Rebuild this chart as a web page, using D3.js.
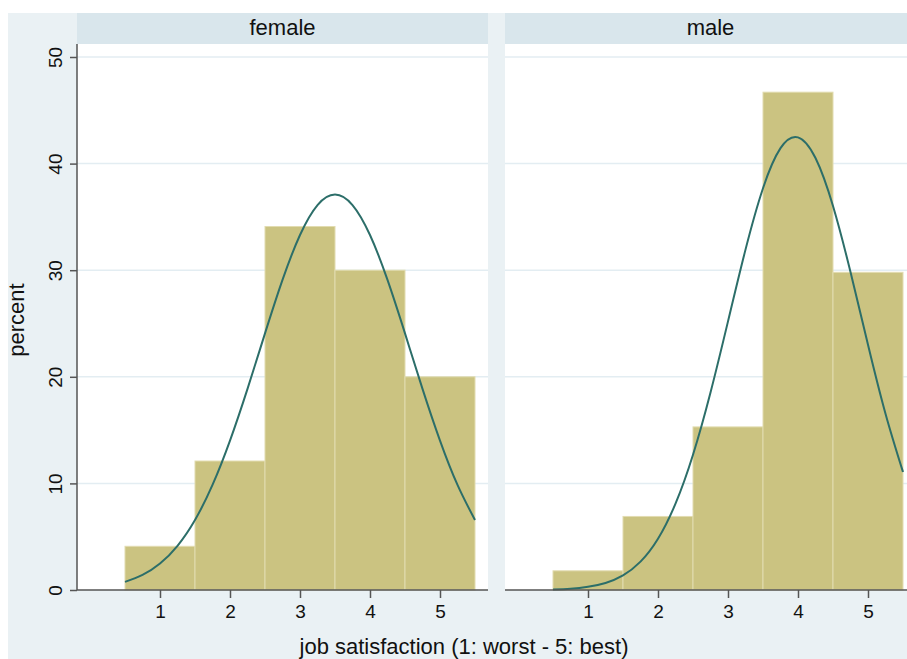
<!DOCTYPE html>
<html>
<head>
<meta charset="utf-8">
<script src="https://cdn.jsdelivr.net/npm/d3@7"></script>
<style>
  body { margin: 0; background: #fff; }
  svg { display: block; font-family: "Liberation Sans", Arial, sans-serif; }
</style>
</head>
<body>
<div id="chart"></div>
<script>
// datos
const groups = ['female', 'male'];
const categories = [1, 2, 3, 4, 5];
const femalePct = [4.1, 12.1, 34.1, 30.0, 20.0];
const malePct = [1.8, 6.9, 15.3, 46.7, 29.8];
const yTicks = [0, 10, 20, 30, 40, 50];

// curva normal superpuesta, puntos leídos cada 0.25
const curveX = [0.5, 0.75, 1, 1.25, 1.5, 1.75, 2, 2.25, 2.5, 2.75, 3, 3.25, 3.5, 3.75, 4, 4.25, 4.5, 4.75, 5, 5.25, 5.5];
const femaleCurve = [0.76, 1.41, 2.48, 4.15, 6.57, 9.86, 14.02, 18.87, 24.07, 29.09, 33.3, 36.11, 37.1, 36.11, 33.3, 29.09, 24.07, 18.87, 14.02, 9.86, 6.57];
const maleCurve = [0.05, 0.12, 0.3, 0.66, 1.37, 2.66, 4.81, 8.1, 12.69, 18.53, 25.2, 31.93, 37.69, 41.45, 42.46, 40.52, 36.02, 29.83, 23.01, 16.54, 11.07];

const xTitle = 'job satisfaction (1: worst - 5: best)';
const yTitle = 'percent';

const W = 907, H = 659;
const panelLefts = [77, 505], panelW = 411;
const headTop = 13, plotTop = 44, plotBottom = 590;

const svg = d3.select('#chart').append('svg')
    .attr('width', W)
    .attr('height', H);

// fondo del gráfico
svg.append('rect')
    .attr('x', 8).attr('y', 13)
    .attr('width', W).attr('height', H)
    .attr('fill', '#eaf1f4');

const y = d3.scaleLinear().domain([0, 50]).range([plotBottom, 57]);

const seriesPct = [femalePct, malePct];
const seriesCurve = [femaleCurve, maleCurve];

groups.forEach(function(g, gi) {
    let x0 = panelLefts[gi];
    let x = d3.scaleLinear().domain([1, 5]).range([x0 + 83, x0 + 363]);

    // cabecera
    svg.append('rect')
        .attr('x', x0).attr('y', headTop)
        .attr('width', panelW).attr('height', plotTop - headTop)
        .attr('fill', '#d9e6ec');
    svg.append('text')
        .attr('x', x0 + panelW / 2).attr('y', 35)
        .attr('text-anchor', 'middle')
        .attr('font-size', 22)
        .attr('fill', '#111')
        .text(g);

    // área del panel
    svg.append('rect')
        .attr('x', x0).attr('y', plotTop)
        .attr('width', panelW).attr('height', plotBottom - plotTop)
        .attr('fill', '#fff');

    // rejilla
    svg.append('g').selectAll('line')
        .data(yTicks.filter(d => d > 0))
        .enter().append('line')
        .attr('x1', x0).attr('x2', x0 + panelW)
        .attr('y1', d => y(d)).attr('y2', d => y(d))
        .attr('stroke', '#e3edf2')
        .attr('stroke-width', 1.5);

    // barras
    svg.append('g').selectAll('rect')
        .data(seriesPct[gi])
        .enter().append('rect')
        .attr('x', (d, i) => x(categories[i] - 0.5))
        .attr('width', (d, i) => x(categories[i] + 0.5) - x(categories[i] - 0.5))
        .attr('y', d => y(d))
        .attr('height', d => y(0) - y(d))
        .attr('fill', '#cbc381')
        .attr('stroke', '#e2dcb0')
        .attr('stroke-width', 1);

    // curva normal
    let line = d3.line()
        .x((d, i) => x(curveX[i]))
        .y(d => y(d))
        .curve(d3.curveNatural);

    svg.append('path')
        .datum(seriesCurve[gi])
        .attr('fill', 'none')
        .attr('stroke', '#2c6e69')
        .attr('stroke-width', 2)
        .attr('d', line);

    // eje X
    let xAxis = svg.append('g')
        .attr('transform', 'translate(0,' + plotBottom + ')')
        .call(d3.axisBottom(x).tickValues(categories).tickFormat(d3.format('d'))
            .tickSize(8).tickPadding(7).tickSizeOuter(0));
    xAxis.select('.domain')
        .attr('d', 'M' + x0 + ',0H' + (x0 + panelW))
        .attr('stroke', '#555').attr('stroke-width', 1.5);
    xAxis.selectAll('.tick line').attr('stroke', '#555').attr('stroke-width', 1.5);
    xAxis.selectAll('.tick text')
        .attr('font-size', 19)
        .attr('font-family', '"Liberation Sans", Arial, sans-serif')
        .attr('fill', '#111');

    // eje Y sólo en el primer panel
    if (gi == 0) {
        let yAxis = svg.append('g')
            .attr('transform', 'translate(' + x0 + ',0)')
            .call(d3.axisLeft(y).tickValues(yTicks).tickSize(7).tickSizeOuter(0));
        yAxis.select('.domain')
            .attr('d', 'M0,' + plotTop + 'V' + plotBottom)
            .attr('stroke', '#555').attr('stroke-width', 1.5);
        yAxis.selectAll('.tick line').attr('stroke', '#555').attr('stroke-width', 1.5);
        yAxis.selectAll('.tick text')
            .attr('font-size', 19)
            .attr('font-family', '"Liberation Sans", Arial, sans-serif')
            .attr('fill', '#111')
            .attr('text-anchor', 'middle')
            .attr('dy', null)
            .attr('x', null)
            .attr('transform', 'translate(-15,0) rotate(-90)');
    }
});

// títulos de los ejes
svg.append('text')
    .attr('x', 464).attr('y', 654)
    .attr('text-anchor', 'middle')
    .attr('font-size', 22)
    .attr('fill', '#111')
    .text(xTitle);

svg.append('text')
    .attr('transform', 'translate(24,320) rotate(-90)')
    .attr('text-anchor', 'middle')
    .attr('font-size', 22)
    .attr('fill', '#111')
    .text(yTitle);
</script>
</body>
</html>
